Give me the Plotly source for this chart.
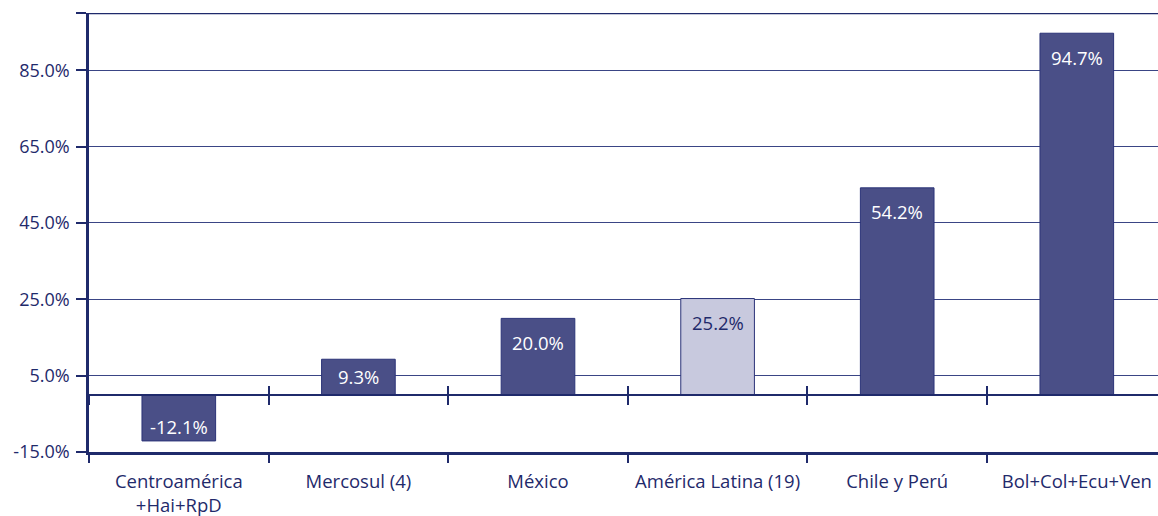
import plotly.graph_objects as go

categories = ["Centroamérica<br>+Hai+RpD", "Mercosul (4)", "México", "América Latina (19)", "Chile y Perú", "Bol+Col+Ecu+Ven"]
values = [-12.1, 9.3, 20.0, 25.2, 54.2, 94.7]
labels = ["-12.1%", "9.3%", "20.0%", "25.2%", "54.2%", "94.7%"]
ytick_vals = [-15, 5, 25, 45, 65, 85, 100]
ytick_text = ["-15.0%", "5.0%", "25.0%", "45.0%", "65.0%", "85.0%", ""]

NAVY = "#1f2a6b"
DARK = "#4a4f87"
LIGHT = "#c8c9de"
FONT = "Open Sans"

Y_MIN, Y_MAX = -15, 100
M_L, M_T, M_B, M_R = 89, 13, 64, 0
W, H = 1158, 516
plot_h = H - M_T - M_B
px_per_unit = plot_h / (Y_MAX - Y_MIN)
cat_px = 179.6
x_max = -0.5 + (W - M_L - M_R) / cat_px

colors = [LIGHT if c.startswith("América Latina") else DARK for c in categories]
text_colors = [NAVY if c.startswith("América Latina") else "white" for c in categories]

fig = go.Figure()
fig.add_trace(go.Bar(
    x=categories, y=values,
    marker=dict(color=colors, line=dict(color="#2b3378", width=1)),
    width=0.41, hoverinfo="x+y",
))

for c, v, lab, tc in zip(categories, values, labels, text_colors):
    h = abs(v) * px_per_unit
    shift = -min(24, h / 2) if v >= 0 else 14
    fig.add_annotation(x=c, y=v, text=lab, showarrow=False, yanchor="middle",
                       yshift=shift, font=dict(family=FONT, size=18.5, color=tc))

zero_pos = (0 - Y_MIN) / (Y_MAX - Y_MIN)
common_x = dict(type="category", range=[-0.5, x_max], tickson="boundaries",
                tickcolor=NAVY, tickwidth=1.5, automargin=False)

fig.update_layout(
    width=W, height=H,
    margin=dict(l=M_L, r=M_R, t=M_T, b=M_B, autoexpand=False),
    paper_bgcolor="white", plot_bgcolor="white",
    showlegend=False,
    xaxis=dict(**common_x, showline=True, linecolor=NAVY, linewidth=2.5, mirror=False,
               ticks="outside", ticklen=8, showgrid=False, ticklabelstandoff=11,
               tickfont=dict(family=FONT, size=18.5, color=NAVY)),
    xaxis2=dict(**common_x, overlaying="x", matches="x", anchor="free", position=zero_pos,
                showline=True, linecolor=NAVY, linewidth=2, ticks="outside", ticklen=9,
                showticklabels=False, showgrid=False),
    xaxis3=dict(**common_x, overlaying="x", matches="x", anchor="free", position=zero_pos,
                showline=False, ticks="inside", ticklen=9,
                showticklabels=False, showgrid=False),
    yaxis=dict(range=[Y_MIN, Y_MAX], tickvals=ytick_vals, ticktext=ytick_text,
               showline=True, linecolor=NAVY, linewidth=2.5, automargin=False,
               ticks="outside", ticklen=10, tickcolor=NAVY, tickwidth=1.5,
               showgrid=True, gridcolor="#3a4585", gridwidth=1,
               zeroline=False, ticklabelstandoff=3,
               tickfont=dict(family=FONT, size=18, color=NAVY)),
)
fig.add_trace(go.Scatter(x=categories, y=[None]*6, xaxis="x2", yaxis="y", hoverinfo="skip", showlegend=False))
fig.add_trace(go.Scatter(x=categories, y=[None]*6, xaxis="x3", yaxis="y", hoverinfo="skip", showlegend=False))
fig.add_shape(type="line", xref="paper", yref="y", x0=0, x1=1, y0=Y_MAX, y1=Y_MAX,
              line=dict(color=NAVY, width=2.5))

fig.write_html("out.html", config={"displayModeBar": False},
               post_script="document.body.style.margin='0';document.body.style.overflow='hidden';")
